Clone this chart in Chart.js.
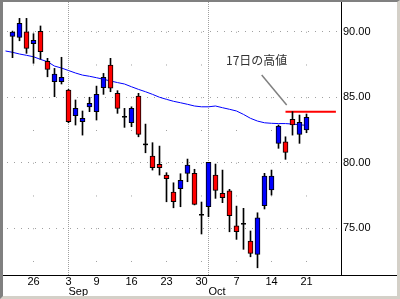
<!DOCTYPE html>
<html><head><meta charset="utf-8">
<script src="https://cdn.jsdelivr.net/npm/chart.js@4/dist/chart.umd.min.js"></script>
<style>
html,body{margin:0;padding:0;background:#d4d0c8;}
#frame{position:absolute;left:0;top:0;width:400px;height:299px;box-sizing:border-box;
 border-top:2px solid #808080;border-left:3px solid #808080;border-right:3px solid #d4d0c8;border-bottom:3px solid #d4d0c8;background:#fff;}
canvas{display:block;}
</style></head><body>
<div id="frame"><canvas id="c" width="394" height="294"></canvas></div>
<script>
// ---- data (2013, daily) ----
const dates = ['08-20','08-21','08-22','08-23','08-26','08-27','08-28','08-29','08-30',
 '09-03','09-04','09-05','09-06','09-09','09-10','09-11','09-12','09-13','09-16','09-17','09-18','09-19','09-20',
 '09-23','09-24','09-25','09-26','09-27','09-30','10-01','10-02','10-03','10-04','10-07','10-08','10-09','10-10','10-11',
 '10-14','10-15','10-16','10-17','10-18','10-21'];
const open  = [null,89.65,89.57,90.00,89.08,90.03,87.74,86.18,86.18,85.55,83.59,83.13,84.27,83.89,85.73,87.46,85.30,83.51,83.05,85.09,81.40,80.51,79.88,79.06,77.76,78.02,79.19,79.19,76.03,76.64,79.06,77.66,77.86,75.19,75.34,74.02,73.01,76.72,77.92,81.48,81.60,83.31,82.17,82.50];
const high  = [null,90.05,91.02,91.02,89.85,90.44,87.97,87.20,88.05,85.60,84.79,83.95,85.00,85.85,86.82,87.97,85.50,84.15,84.27,85.30,82.95,81.53,81.27,79.24,78.47,79.16,80.28,79.50,77.00,80.03,79.90,79.44,77.97,76.69,76.52,74.79,76.18,79.19,79.44,82.88,81.98,83.90,83.64,83.72];
const low   = [null,88.02,89.31,88.35,87.59,87.90,86.56,85.04,86.01,83.05,82.88,82.11,83.90,83.26,85.22,85.42,83.77,82.70,82.75,81.98,80.76,79.44,79.06,77.02,76.56,76.64,78.55,76.78,74.56,75.88,77.28,76.95,74.73,74.15,73.39,72.82,71.98,76.47,77.53,81.10,80.26,82.11,81.48,82.29];
const close = [null,89.98,90.64,88.73,89.34,88.47,87.13,86.77,86.52,83.13,84.15,83.39,84.53,85.22,86.52,85.70,84.15,83.51,84.15,82.17,81.40,79.62,79.62,78.78,77.02,78.66,79.82,76.82,76.03,80.03,77.89,77.33,75.95,74.73,75.34,73.08,75.79,78.98,78.98,82.80,80.79,82.88,83.08,83.47];
const movingAvg = [88.53,88.43,88.30,88.20,88.09,87.89,87.71,87.38,87.23,87.04,86.85,86.69,86.60,86.49,86.37,86.24,86.12,86.01,85.80,85.60,85.42,85.22,85.00,84.84,84.69,84.58,84.46,84.33,84.27,84.27,84.33,84.20,84.08,83.95,83.69,83.39,83.18,83.05,83.01,82.99,82.99,82.95,82.90,82.85];
const weekTickDates = ['08-26','09-03','09-09','09-16','09-23','09-30','10-07','10-14','10-21'];
const weekTickLabels = ['26','3','9','16','23','30','7','14','21'];
const monthStartDates = ['09-03','10-01'];
const monthLabels = ['Sep','Oct'];
const yTickValues = [72.5,75,77.5,80,82.5,85,87.5,90];
const noteDate = '10-17';
const noteText = '17日の高値';

// ---- styling / annotation placement (data units relative to note candle) ----
const note = {textDx:-9.5, textDy:3.94, leaderFrom:[-4.4,2.79], leaderTo:[-0.83,0.5], lineFrom:-1, lineTo:6.2};
const upColor = '#0000ff', downColor = '#ff0000', gridColor = '#a0a0a0';
const FONT = '"Liberation Sans", Arial, sans-serif';

const bodies = [], bodyColors = [], wicks = [], dojis = [];
dates.forEach((d,i)=>{
  if (open[i] == null) return;
  wicks.push({x:i, y:[low[i], high[i]]});
  if (open[i] === close[i]) dojis.push({x:i, y:open[i]});
  else {
    bodies.push({x:i, y:[Math.min(open[i],close[i]), Math.max(open[i],close[i])]});
    bodyColors.push(close[i] > open[i] ? upColor : downColor);
  }
});
const maData = movingAvg.map((v,i)=>({x:i, y:v}));
const ni = dates.indexOf(noteDate);
const nh = high[ni];
const highLine = [{x:ni+note.lineFrom, y:nh},{x:ni+note.lineTo, y:nh}];
const leader = [{x:ni+note.leaderFrom[0], y:nh+note.leaderFrom[1]},{x:ni+note.leaderTo[0], y:nh+note.leaderTo[1]}];
const weekIdx = weekTickDates.map(d=>dates.indexOf(d));
const monthIdx = monthStartDates.map(d=>dates.indexOf(d));
const gridIdx = Array.from(new Set(weekIdx.concat(monthIdx))).sort((a,b)=>a-b);

const overlay = {
  id:'overlay',
  afterDraw(chart){
    const {ctx, chartArea, scales:{x, y}} = chart;
    ctx.save();
    ctx.strokeStyle = '#000'; ctx.lineWidth = 1;
    ctx.beginPath();
    ctx.moveTo(chartArea.right, Math.round(chartArea.bottom)+0.5);
    ctx.lineTo(chart.width, Math.round(chartArea.bottom)+0.5);
    ctx.stroke();
    ctx.fillStyle = '#000'; ctx.font = '11px ' + FONT;
    ctx.textAlign = 'left'; ctx.textBaseline = 'middle';
    monthIdx.forEach((m,k)=>{ ctx.fillText(monthLabels[k], x.getPixelForValue(m), chartArea.bottom + 16.7); });
    ctx.fillStyle = '#333'; ctx.font = '12px "Noto Sans CJK JP", sans-serif';
    ctx.fillText(noteText, x.getPixelForValue(ni + note.textDx), y.getPixelForValue(nh + note.textDy));
    ctx.restore();
  }
};

Chart.defaults.font.family = FONT;
Chart.defaults.font.size = 11;
Chart.defaults.color = '#000';

const zeroPad = s => { s.paddingTop = 0; s.paddingBottom = 0; s.paddingLeft = 0; s.paddingRight = 0; };

new Chart(document.getElementById('c'), {
  type:'bar',
  data:{ datasets:[
    {type:'bar', data:bodies, backgroundColor:bodyColors, borderColor:'#000', borderWidth:1, borderSkipped:false, barThickness:5, grouped:false, order:0},
    {type:'scatter', data:dojis, pointStyle:'line', radius:2.5, borderColor:'#000', borderWidth:1.5, showLine:false, order:0},
    {type:'bar', data:wicks, backgroundColor:'#000', borderWidth:0, barThickness:1, grouped:false, order:1},
    {type:'line', data:highLine, borderColor:'#ff0000', borderWidth:2, pointRadius:0, order:2},
    {type:'line', data:leader, borderColor:'#808080', borderWidth:1.5, pointRadius:0, order:2},
    {type:'line', data:maData, borderColor:'#0000ff', borderWidth:1, pointRadius:0, tension:0, order:3}
  ]},
  options:{
    responsive:false, animation:false, devicePixelRatio:1,
    layout:{padding:0, autoPadding:false},
    plugins:{legend:{display:false}, tooltip:{enabled:false}},
    scales:{
      x:{type:'linear', min:-0.357, max:47.929, offset:false,
         afterBuildTicks:s=>{ s.ticks = gridIdx.map(v=>({value:v})); },
         afterFit:s=>{ s.height = 21; zeroPad(s); },
         ticks:{autoSkip:false, maxRotation:0, padding:0, callback:v=>{ const k = weekIdx.indexOf(v); return k>=0 ? weekTickLabels[k] : ''; }},
         grid:{offset:false, drawTicks:false, color:gridColor, lineWidth:1},
         border:{display:true, color:'#000', width:1,
           dash:c=>{ if (!c.tick) return []; if (monthIdx.includes(c.tick.value)) return [1,1]; const y = c.chart.scales.y; const per = y ? Math.abs(y.getPixelForValue(87.5)-y.getPixelForValue(90)) : 32.75; return [1, per-1]; },
           dashOffset:c=>{ if (!c.tick || monthIdx.includes(c.tick.value)) return 0; const y = c.chart.scales.y; if (!y) return 0; const per = Math.abs(y.getPixelForValue(87.5)-y.getPixelForValue(90)); const d = (y.getPixelForValue(90)-y.top) % per; return per - d; }}
      },
      y:{type:'linear', position:'right', min:71.43, max:92.27,
         afterBuildTicks:s=>{ s.ticks = yTickValues.map(v=>({value:v})); },
         afterFit:s=>{ s.width = 56; zeroPad(s); },
         ticks:{padding:2, callback:v=> (v % 5 === 0 ? v.toFixed(2) : '')},
         grid:{drawTicks:false, lineWidth:1, color:c=> (c.tick && c.tick.value % 5 === 0) ? gridColor : 'rgba(0,0,0,0)'},
         border:{display:true, color:'#000', width:1, dash:[1,6], dashOffset:3}
      }
    }
  },
  plugins:[overlay]
});
</script>
</body></html>
